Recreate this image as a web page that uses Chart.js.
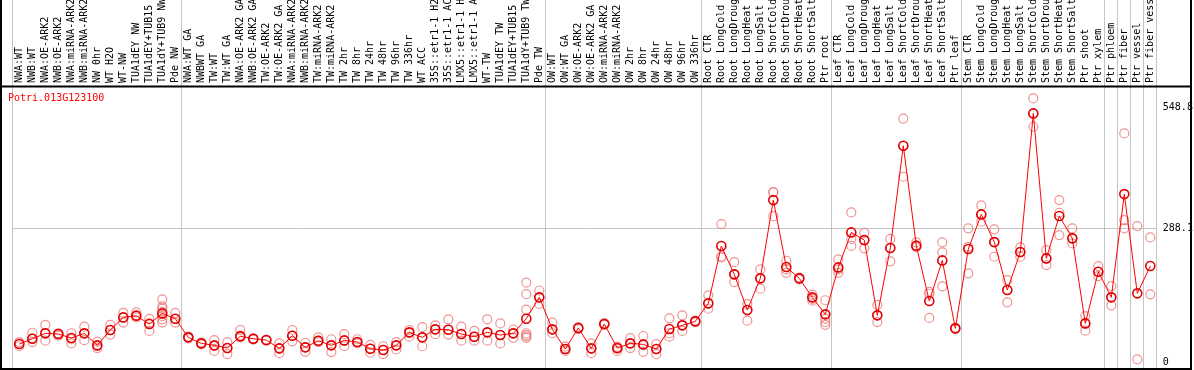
<!DOCTYPE html>
<html>
<head>
<meta charset="utf-8">
<script src="https://cdn.jsdelivr.net/npm/chart.js@4/dist/chart.umd.min.js"></script>
<style>
  html, body { margin: 0; padding: 0; background: #fff; }
  canvas { display: block; }
</style>
</head>
<body>
<canvas id="expr" width="1194" height="370"></canvas>
<script>
const geneName = "Potri.013G123100";

const samples = [
  "NWA:WT", "NWB:WT", "NWA:OE-ARK2", "NWB:OE-ARK2", "NWA:miRNA-ARK2", "NWB:miRNA-ARK2",
  "NW 0hr", "WT H2O", "WT-NW", "TUA1dEY NW", "TUA1dEY+TUB15 NW", "TUA1dY+TUB9 NW", "Pde NW",
  "NWA:WT GA", "NWBWT GA", "TW:WT", "TW:WT GA", "NWA:OE-ARK2 GA", "NWB:OE-ARK2 GA",
  "TW:OE-ARK2", "TW:OE-ARK2 GA", "NWA:miRNA-ARK2", "NWB:miRNA-ARK2", "TW:miRNA-ARK2",
  "TW:miRNA-ARK2", "TW 2hr", "TW 8hr", "TW 24hr", "TW 48hr", "TW 96hr", "TW 336hr",
  "WT ACC", "35S::etr1-1 H2O", "35S::etr1-1 ACC", "LMX5::etr1-1 H2O", "LMX5::etr1-1 ACC",
  "WT-TW", "TUA1dEY TW", "TUA1dEY+TUB15 TW", "TUA1dY+TUB9 TW", "Pde TW",
  "OW:WT", "OW:WT GA", "OW:OE-ARK2", "OW:OE-ARK2 GA", "OW:miRNA-ARK2", "OW:miRNA-ARK2",
  "OW 2hr", "OW 8hr", "OW 24hr", "OW 48hr", "OW 96hr", "OW 336hr",
  "Root CTR", "Root LongCold", "Root LongDrought", "Root LongHeat", "Root LongSalt",
  "Root ShortCold", "Root ShortDrought", "Root ShortHeat", "Root ShortSalt", "Ptr root",
  "Leaf CTR", "Leaf LongCold", "Leaf LongDrought", "Leaf LongHeat", "Leaf LongSalt",
  "Leaf ShortCold", "Leaf ShortDrought", "Leaf ShortHeat", "Leaf ShortSalt", "Ptr leaf",
  "Stem CTR", "Stem LongCold", "Stem LongDrought", "Stem LongHeat", "Stem LongSalt",
  "Stem ShortCold", "Stem ShortDrought", "Stem ShortHeat", "Stem ShortSalt", "Ptr shoot",
  "Ptr xylem", "Ptr phloem", "Ptr fiber", "Ptr vessel", "Ptr fiber vessel"
];

// first sample of every experiment block (a grey separator is drawn before it)
const groupStarts = [0, 13, 41, 53, 63, 73, 84, 85, 86, 87];

const means = [
  38.7, 50, 61.7, 60.3, 51.6, 61.7, 35.9, 68.9, 96.1, 99.7, 81.8, 104.7, 93.3,
  53.1, 40.2, 35.9, 30.1, 55.3, 50.2, 47.3, 29.4, 56.7, 31.6, 45.9, 35.9, 46.6,
  43, 28.7, 25.8, 35.9, 63.9, 53.1, 70.3, 69.6, 60.3, 54.5, 63.9, 58.1, 61.7,
  93.3, 139.2,
  70.3, 28, 73.2, 29.4, 81.8, 30.1, 40.2, 38, 28, 71, 79, 87.6,
  126.3, 249.6, 188.7, 111.9, 180.1, 348.6, 204.4, 180.1, 139.2, 102.6,
  203.7, 279, 262.5, 100.5, 245.3, 465.5, 250.3, 131.3, 218.8, 72.5,
  243.2, 317.8, 258.2, 154.9, 236.7, 535.2, 223.1, 314.2, 266.2, 83.2, 194.3,
  139.2, 361.5, 147.8, 206.6
];

const replicates = [
  [34, 39, 43], [63, 51, 43], [80, 62, 46], [62, 57, 60], [62, 49, 40], [76, 62, 47],
  [44, 34, 30], [80, 69, 59], [106, 96, 85], [107, 101, 96], [93, 83, 67],
  [135, 120, 115, 108, 99, 92, 85], [106, 93, 85],
  [55, 53, 51], [42, 40, 38], [47, 34, 24], [43, 30, 17], [69, 57, 53], [51, 50, 48],
  [48, 47, 46], [40, 29, 19], [69, 57, 44.5], [41.5, 31.6, 22], [53, 46, 43],
  [49, 36, 21.5], [60, 46, 34], [49, 43, 40], [37, 28.7, 20], [34, 26, 17],
  [43, 36, 27], [69, 62, 54.5], [75, 53, 34], [79, 70, 60], [92, 70, 59],
  [76, 60, 46], [67, 54.5, 46], [92, 63, 46], [83, 58, 40], [70, 62, 52],
  [171, 146, 113, 62, 58, 55, 52], [154, 139, 125],
  [85, 70, 62], [33, 28, 24], [75, 73, 71], [40, 29, 19], [84, 82, 80],
  [33, 28.7, 24], [51.6, 40, 30], [56, 36, 22], [38.7, 28, 17], [94, 62, 54.5],
  [100.5, 79, 67], [89, 87, 86],
  [143.5, 126, 114.7], [297, 227, 225], [215, 188, 172], [124.8, 112, 89],
  [199.5, 179.3, 157.7], [366, 365, 314], [218, 199.5, 192], [182, 178, 180],
  [145, 136, 132], [133, 93, 86, 80],
  [221, 199.5, 192], [322, 265, 250], [278, 262.5, 244.7], [123, 100.5, 86],
  [265, 245, 216.7], [524, 465.5, 398.8], [257.6, 251, 247.5], [151, 147, 95],
  [257.6, 236, 163], [73.5, 72.5, 71],
  [287.7, 248, 190.9], [337, 318, 302], [285.6, 258, 226.6], [176.5, 155, 128.5],
  [246.8, 236.7, 226.6], [567.5, 535.2, 506.4], [241, 223.1, 208.7],
  [348.6, 321.3, 273.3], [287.7, 266.2, 255.4], [99, 83.2, 67.4], [206.6, 194.3, 185],
  [163.5, 139.2, 122], [492, 305.6, 287.7], [292.7, 5.8], [268.3, 145.7]
];

const yTicks = [0, 288.1, 548.8];
const yMin = -15;
const yMax = 592;

const FONT = { family: "'DejaVu Sans Mono', monospace", size: 10 };
const GREY = "#c4c4c4";
const NONE = "rgba(0,0,0,0)";

const maxReps = Math.max(...replicates.map((r) => r.length));
const replicateSets = Array.from({ length: maxReps }, (_, k) => ({
  label: `replicate ${k + 1}`,
  data: replicates.map((r) => (r[k] === undefined ? null : r[k])),
  showLine: false,
  pointRadius: 4.5,
  pointBorderWidth: 1.2,
  pointBorderColor: "rgba(236,120,120,0.8)",
  pointBackgroundColor: NONE,
  order: 2,
}));

const framePlugin = {
  id: "frame",
  afterDraw(chart) {
    const { ctx, width, chartArea } = chart;
    ctx.save();
    ctx.strokeStyle = "#000";
    ctx.lineWidth = 2;
    ctx.beginPath();
    ctx.moveTo(1, 0);
    ctx.lineTo(1, 370);
    ctx.moveTo(width - 3, 0);
    ctx.lineTo(width - 3, 370);
    ctx.moveTo(0, chartArea.top - 0.5);
    ctx.lineTo(width - 2, chartArea.top - 0.5);
    ctx.moveTo(0, 369);
    ctx.lineTo(width - 2, 369);
    ctx.stroke();
    ctx.fillStyle = "#ff0000";
    ctx.font = `${FONT.size}px ${FONT.family}`;
    ctx.textBaseline = "alphabetic";
    ctx.fillText(geneName, 8, chartArea.top + 14);
    ctx.restore();
  },
};

new Chart(document.getElementById("expr"), {
  type: "line",
  data: {
    labels: samples,
    datasets: [
      {
        label: geneName,
        data: means,
        borderColor: "#ff0000",
        borderWidth: 1,
        tension: 0,
        pointRadius: 4.5,
        pointBorderWidth: 1.6,
        pointBorderColor: "#e00000",
        pointBackgroundColor: NONE,
        order: 0,
      },
      ...replicateSets,
    ],
  },
  options: {
    responsive: false,
    animation: false,
    devicePixelRatio: 1,
    layout: {
      autoPadding: false,
      padding: { left: 12.8, right: 0, top: 0, bottom: 1 },
    },
    plugins: { legend: { display: false }, tooltip: { enabled: false } },
    scales: {
      x: {
        position: "top",
        offset: true,
        grid: {
          offset: true,
          tickLength: 87,
          color: (c) =>
            c.type !== "tick" || groupStarts.includes(c.index) ? GREY : NONE,
        },
        border: { display: false },
        ticks: {
          autoSkip: false,
          minRotation: 90,
          maxRotation: 90,
          padding: -83,
          labelOffset: 12.5,
          font: FONT,
          color: "#000",
        },
        afterFit: (s) => {
          s.height = 87;
        },
      },
      y: {
        position: "right",
        min: yMin,
        max: yMax,
        grid: {
          drawTicks: false,
          color: (c) => (c.tick && c.tick.value === 288.1 ? GREY : NONE),
        },
        border: { display: false },
        ticks: {
          padding: 6,
          font: FONT,
          color: "#000",
          callback: (v) => String(v),
        },
        afterBuildTicks: (s) => {
          s.ticks = yTicks.map((value) => ({ value }));
        },
        afterFit: (s) => {
          s.width = 37.2;
          s.paddingTop = 0;
          s.paddingBottom = 0;
        },
      },
    },
  },
  plugins: [framePlugin],
});
</script>
</body>
</html>
